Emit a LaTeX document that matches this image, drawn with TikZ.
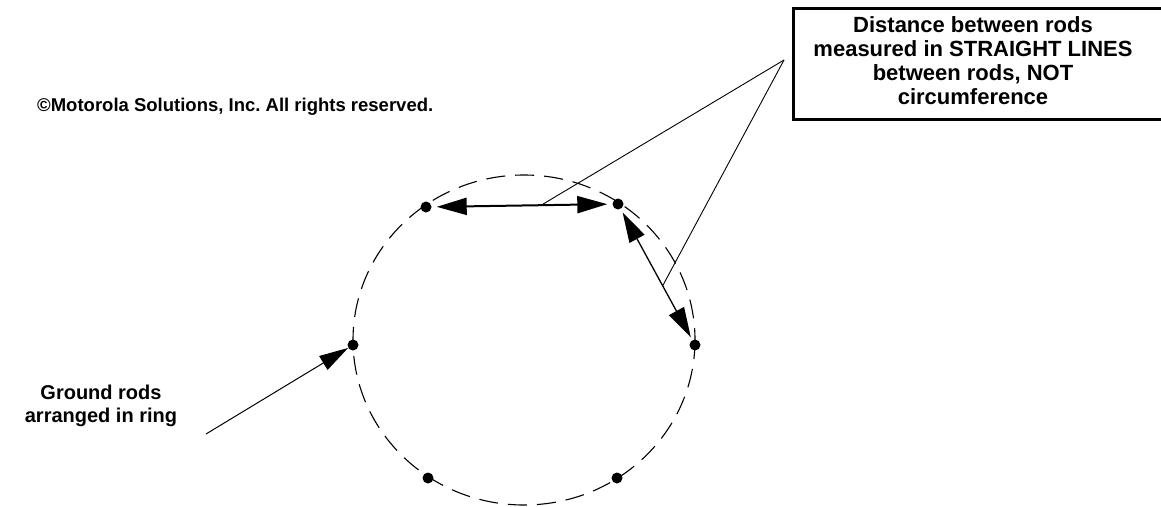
\documentclass[tikz,border=0pt]{standalone}
\usepackage{fontspec}
\setmainfont{Liberation Sans}
\usetikzlibrary{arrows.meta, positioning, calc}
\begin{document}
\begin{tikzpicture}[x=1pt, y=-1pt,
        rod/.style={circle, fill=black, inner sep=0pt, minimum size=11pt},
        caption/.style={align=center, font={\fontsize{20}{23}\selectfont\bfseries}, inner sep=0pt},
        notetext/.style={align=center, font={\fontsize{22}{24}\selectfont\bfseries}, inner sep=0pt},
        measure/.style={{Triangle[length=30pt, width=17pt]}-{Triangle[length=30pt, width=17pt]}},
        pointer/.style={-{Triangle[length=29pt, width=16pt]}, line width=1pt},
        leader/.style={line width=0.9pt, -}
    ]
        % Page frame
        \useasboundingbox (0,0) rectangle (1161,506);
        % Ring outline
        \draw[line width=1.1pt, dash pattern=on 19pt off 10pt] (524,340) ellipse [x radius=171, y radius=165];
        % Rods
        \node (rodA) [rod] at (426,207) {};
        \node (rodB) [rod] at (618,204) {};
        \node (rodC) [rod] at (353,345) {};
        \node (rodD) [rod] at (695,345) {};
        \node (rodE) [rod] at (428,478) {};
        \node (rodF) [rod] at (617,478) {};
        % Measured distances
        \draw [measure, line width=2pt, shorten <=5pt, shorten >=5pt] (rodA) -- (rodB);
        \draw [measure, line width=1.3pt, shorten <=4pt, shorten >=3pt] (rodB) -- (rodD);
        % Note box (open on the right, runs off the page)
        \draw[line width=3pt] (1175,8) -- (793,8) -- (793,119) -- (1175,119);
        \node (note) [notetext] at (973,61) {Distance between rods\\measured in STRAIGHT LINES\\between rods, NOT\\circumference};
        \coordinate (apex) at (784,60);
        \draw [leader] (apex) -- ($(rodA)!0.6!(rodB)$);
        \draw [leader] (apex) -- ($(rodB)!0.58!(rodD)$);
        % Labels
        \node (copy) [caption, anchor=west, font={\fontsize{18.5}{20}\selectfont\bfseries}] at (37,107) {©Motorola Solutions, Inc.\ All rights reserved.};
        \node (ground) [caption] at (101,406) {Ground rods\\arranged in ring};
        \coordinate (gtail) at (206,434);
        \draw [pointer] (gtail) -- (rodC);
    \end{tikzpicture}
\end{document}
